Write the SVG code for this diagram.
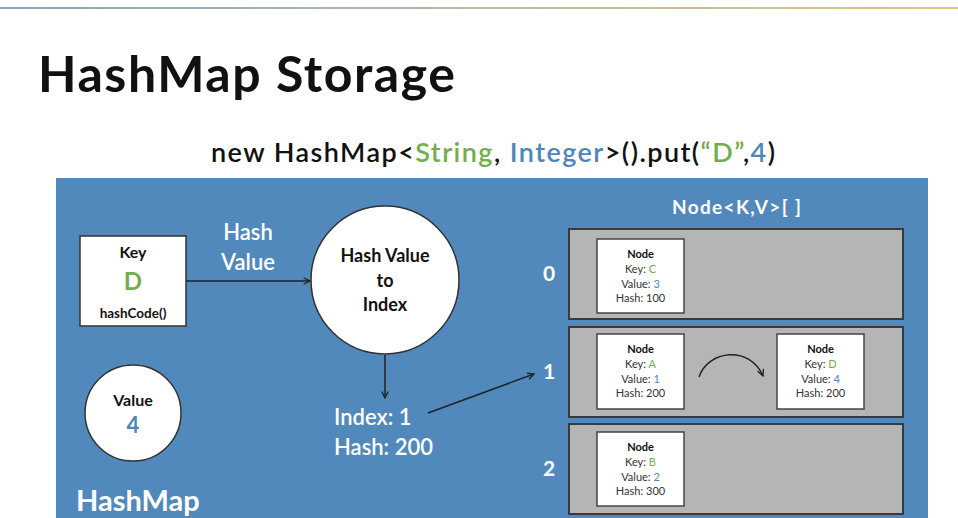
<svg xmlns="http://www.w3.org/2000/svg" width="958" height="518" viewBox="0 0 958 518">
  <defs>
    <linearGradient id="topRule" x1="0" y1="0" x2="1" y2="0">
      <stop offset="0" stop-color="#8aa5bf"/>
      <stop offset="0.5" stop-color="#b7bca6"/>
      <stop offset="1" stop-color="#dcc684"/>
    </linearGradient>
    <marker id="arrow" viewBox="0 0 10 10" refX="9" refY="5" markerWidth="8" markerHeight="8" markerUnits="userSpaceOnUse" orient="auto">
      <path d="M1,1 L9,5 L1,9" fill="none" stroke="#222" stroke-width="1.6"/>
    </marker>
  </defs>
  <style>
    text { font-family: Lato, "Open Sans", "Liberation Sans", sans-serif; }
    .title { font-size: 50px; font-weight: 700; fill: #111; }
    .code { font-size: 27px; font-weight: 600; fill: #111; }
    .white { fill: #fff; font-weight: 700; }
    .label { fill: #fff; font-weight: 600; font-size: 22px; }
    .dark { fill: #111; font-weight: 700; }
    .green { fill: #72ad4e; }
    .blue { fill: #4b86bd; }
    .box { fill: #fff; stroke: #333; stroke-width: 1.5; }
    .row { fill: #b5b5b5; stroke: #3a3a3a; stroke-width: 2; }
    .nodebox { fill: #fff; stroke: #444; stroke-width: 1.5; }
    .ntitle { font-size: 11px; font-weight: 700; fill: #111; text-anchor: middle; }
    .nline { font-size: 11px; fill: #333; text-anchor: middle; }
    .conn { fill: none; stroke: #222; stroke-width: 1.5; }
  </style>

  <rect x="0" y="0" width="958" height="518" fill="#fff"/>
  <rect x="0" y="7" width="958" height="2" fill="url(#topRule)"/>

  <text class="title" x="38" y="92" textLength="417">HashMap Storage</text>
  <text class="code" x="211" y="162" textLength="564">new HashMap&lt;<tspan class="green">String</tspan>, <tspan class="blue">Integer</tspan>&gt;().put(<tspan class="green">“D”</tspan>,<tspan class="blue">4</tspan>)</text>

  <!-- HashMap panel -->
  <rect id="panel" x="56" y="178" width="872" height="345" fill="#5189bd"/>
  <text class="white" x="76" y="511" font-size="29">HashMap</text>

  <g id="key">
    <rect class="box" x="80" y="236" width="106" height="90"/>
    <text class="dark" x="133" y="258" font-size="16" text-anchor="middle">Key</text>
    <text class="green" x="133" y="290" font-size="24" font-weight="700" text-anchor="middle">D</text>
    <text class="dark" x="133" y="318" font-size="13.5" text-anchor="middle">hashCode()</text>
  </g>

  <g id="value">
    <circle cx="133" cy="413" r="48" fill="#fff" stroke="#333" stroke-width="1.5"/>
    <text class="dark" x="133" y="406" font-size="16" text-anchor="middle">Value</text>
    <text class="blue" x="133" y="433" font-size="22" font-weight="700" text-anchor="middle">4</text>
  </g>

  <g id="hash-to-index">
    <circle cx="385" cy="280" r="74" fill="#fff" stroke="#333" stroke-width="1.5"/>
    <text class="dark" x="385" y="262" font-size="18" text-anchor="middle">Hash Value</text>
    <text class="dark" x="385" y="287" font-size="18" text-anchor="middle">to</text>
    <text class="dark" x="385" y="311" font-size="18" text-anchor="middle">Index</text>
  </g>

  <g id="labels">
    <text class="label" x="248" y="240" text-anchor="middle">Hash</text>
    <text class="label" x="248" y="270" text-anchor="middle">Value</text>
    <text class="label" x="334" y="425">Index: 1</text>
    <text class="label" x="334" y="455">Hash: 200</text>
    <text class="white" x="672" y="214" font-size="19" textLength="129">Node&lt;K,V&gt;[ ]</text>
    <text class="white" x="549" y="281" font-size="21" text-anchor="middle">0</text>
    <text class="white" x="549" y="379" font-size="21" text-anchor="middle">1</text>
    <text class="white" x="549" y="476" font-size="21" text-anchor="middle">2</text>
  </g>

  <!-- bucket rows -->
  <g id="bucket-0">
    <rect class="row" x="569" y="229" width="334" height="90"/>
  </g>
  <g id="bucket-1">
    <rect class="row" x="569" y="327" width="334" height="90"/>
  </g>
  <g id="bucket-2">
    <rect class="row" x="569" y="424" width="334" height="90"/>
  </g>

  <g id="node-c">
    <rect class="nodebox" x="597" y="239" width="87" height="74"/>
    <text class="ntitle" x="640.5" y="258">Node</text>
    <text class="nline" x="640.5" y="273">Key: <tspan class="green">C</tspan></text>
    <text class="nline" x="640.5" y="288">Value: <tspan class="blue">3</tspan></text>
    <text class="nline" x="640.5" y="302">Hash: 100</text>
  </g>
  <g id="node-a">
    <rect class="nodebox" x="597" y="334" width="87" height="75"/>
    <text class="ntitle" x="640.5" y="353">Node</text>
    <text class="nline" x="640.5" y="368">Key: <tspan class="green">A</tspan></text>
    <text class="nline" x="640.5" y="383">Value: <tspan class="blue">1</tspan></text>
    <text class="nline" x="640.5" y="397">Hash: 200</text>
  </g>
  <g id="node-d">
    <rect class="nodebox" x="777" y="334" width="87" height="75"/>
    <text class="ntitle" x="820.5" y="353">Node</text>
    <text class="nline" x="820.5" y="368">Key: <tspan class="green">D</tspan></text>
    <text class="nline" x="820.5" y="383">Value: <tspan class="blue">4</tspan></text>
    <text class="nline" x="820.5" y="397">Hash: 200</text>
  </g>
  <g id="node-b">
    <rect class="nodebox" x="597" y="432" width="87" height="74"/>
    <text class="ntitle" x="640.5" y="451">Node</text>
    <text class="nline" x="640.5" y="466">Key: <tspan class="green">B</tspan></text>
    <text class="nline" x="640.5" y="481">Value: <tspan class="blue">2</tspan></text>
    <text class="nline" x="640.5" y="495">Hash: 300</text>
  </g>

  <g id="connectors">
    <line class="conn" x1="186" y1="281" x2="310" y2="281" marker-end="url(#arrow)"/>
    <line class="conn" x1="385" y1="355" x2="385" y2="398" marker-end="url(#arrow)"/>
    <line class="conn" x1="428" y1="413" x2="534" y2="374" marker-end="url(#arrow)"/>
    <path class="conn" d="M699,377 C708,350 750,345 763,376" marker-end="url(#arrow)"/>
  </g>
</svg>
